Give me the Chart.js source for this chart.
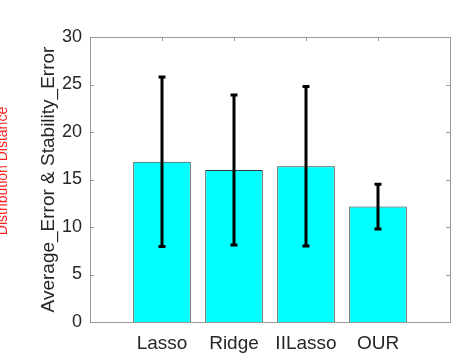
<!DOCTYPE html>
<html lang="en">
<head>
  <meta charset="utf-8" />
  <title>Average_Error & Stability_Error</title>
  <script src="https://cdn.jsdelivr.net/npm/chart.js@4"></script>
  <style>
    html, body { margin: 0; padding: 0; background: #fff; }
    #wrap { width: 464px; height: 355px; }
  </style>
</head>
<body>
  <div id="wrap"><canvas id="myChart" width="464" height="355"></canvas></div>

  <script>
    // data
    const categories = ['Lasso', 'Ridge', 'IILasso', 'OUR'];
    const avgError = [16.87, 16.0, 16.4, 12.15];
    const stdError = [8.93, 7.9, 8.4, 2.35];
    const yTicks = [0, 5, 10, 15, 20, 25, 30];

    const FONT = '"Liberation Sans", Arial, Helvetica, sans-serif';
    const axisColor = '#999999';

    // bar points at x = 1..4 on a 0..5 axis
    const barPoints = categories.map((c, i) => ({ x: i + 1, y: avgError[i] }));

    // error bars + box + inner ticks
    const extras = {
      id: 'extras',
      afterDatasetsDraw(chart) {
        const ctx = chart.ctx;
        const xs = chart.scales.x;
        const ys = chart.scales.y;
        const area = chart.chartArea;
        ctx.save();

        // error bars
        ctx.strokeStyle = '#000';
        ctx.lineWidth = 3;
        ctx.lineCap = 'butt';
        for (let i = 0; i < categories.length; i++) {
          const x = xs.getPixelForValue(i + 1);
          const yHi = ys.getPixelForValue(avgError[i] + stdError[i]);
          const yLo = ys.getPixelForValue(avgError[i] - stdError[i]);
          ctx.beginPath();
          ctx.moveTo(x, yHi);
          ctx.lineTo(x, yLo);
          ctx.moveTo(x - 3.5, yHi);
          ctx.lineTo(x + 3.5, yHi);
          ctx.moveTo(x - 3.5, yLo);
          ctx.lineTo(x + 3.5, yLo);
          ctx.stroke();
        }

        // box top/right
        ctx.strokeStyle = axisColor;
        ctx.lineWidth = 1;
        ctx.beginPath();
        ctx.moveTo(area.left, Math.round(area.top) + 0.5);
        ctx.lineTo(area.right, Math.round(area.top) + 0.5);
        ctx.moveTo(Math.round(area.right) + 0.5, area.top);
        ctx.lineTo(Math.round(area.right) + 0.5, area.bottom);
        ctx.stroke();

        // inner ticks
        ctx.beginPath();
        yTicks.forEach(v => {
          const y = Math.round(ys.getPixelForValue(v)) + 0.5;
          ctx.moveTo(area.left, y);
          ctx.lineTo(area.left + 4, y);
          ctx.moveTo(area.right, y);
          ctx.lineTo(area.right - 4, y);
        });
        categories.forEach((c, i) => {
          const x = Math.round(xs.getPixelForValue(i + 1)) + 0.5;
          ctx.moveTo(x, area.top);
          ctx.lineTo(x, area.top + 4);
        });
        ctx.stroke();

        ctx.restore();
      },
      afterDraw(chart) {
        // clipped red side label
        const ctx = chart.ctx;
        ctx.save();
        ctx.translate(7, 171);
        ctx.rotate(-Math.PI / 2);
        ctx.fillStyle = '#ff2020';
        ctx.font = '14px ' + FONT;
        ctx.textAlign = 'center';
        ctx.textBaseline = 'alphabetic';
        ctx.fillText('Distribution Distance', 0, 0);
        ctx.restore();
      }
    };

    const chart = new Chart(document.getElementById('myChart'), {
      type: 'bar',
      data: {
        datasets: [{
          data: barPoints,
          backgroundColor: '#00ffff',
          borderColor: '#3a3a3a',
          borderWidth: 1,
          barPercentage: 1.0,
          categoryPercentage: 0.8,
        }]
      },
      options: {
        responsive: false,
        animation: false,
        layout: { padding: { top: 37, right: 14, left: 0, bottom: 0 } },
        plugins: {
          legend: { display: false },
          tooltip: { enabled: false },
        },
        scales: {
          x: {
            type: 'linear',
            min: 0,
            max: 5,
            offset: false,
            grid: { display: false, drawTicks: false, offset: false },
            border: { display: true, color: axisColor },
            ticks: {
              stepSize: 1,
              autoSkip: false,
              maxRotation: 0,
              padding: 10,
              color: '#262626',
              font: { family: FONT, size: 19 },
              callback: v => categories[v - 1] || '',
            },
            afterFit: s => { s.height = 33; },
          },
          y: {
            min: 0,
            max: 30,
            grid: { display: false, drawTicks: false },
            border: { display: true, color: axisColor },
            ticks: {
              stepSize: 5,
              padding: 8,
              color: '#262626',
              font: { family: FONT, size: 18 },
            },
            title: {
              display: true,
              text: 'Average_Error & Stability_Error',
              color: '#262626',
              font: { family: FONT, size: 19 },
              padding: { top: 37, bottom: 0 },
            },
            afterFit: s => { s.width = 90; },
          }
        }
      },
      plugins: [extras]
    });
  </script>
</body>
</html>
